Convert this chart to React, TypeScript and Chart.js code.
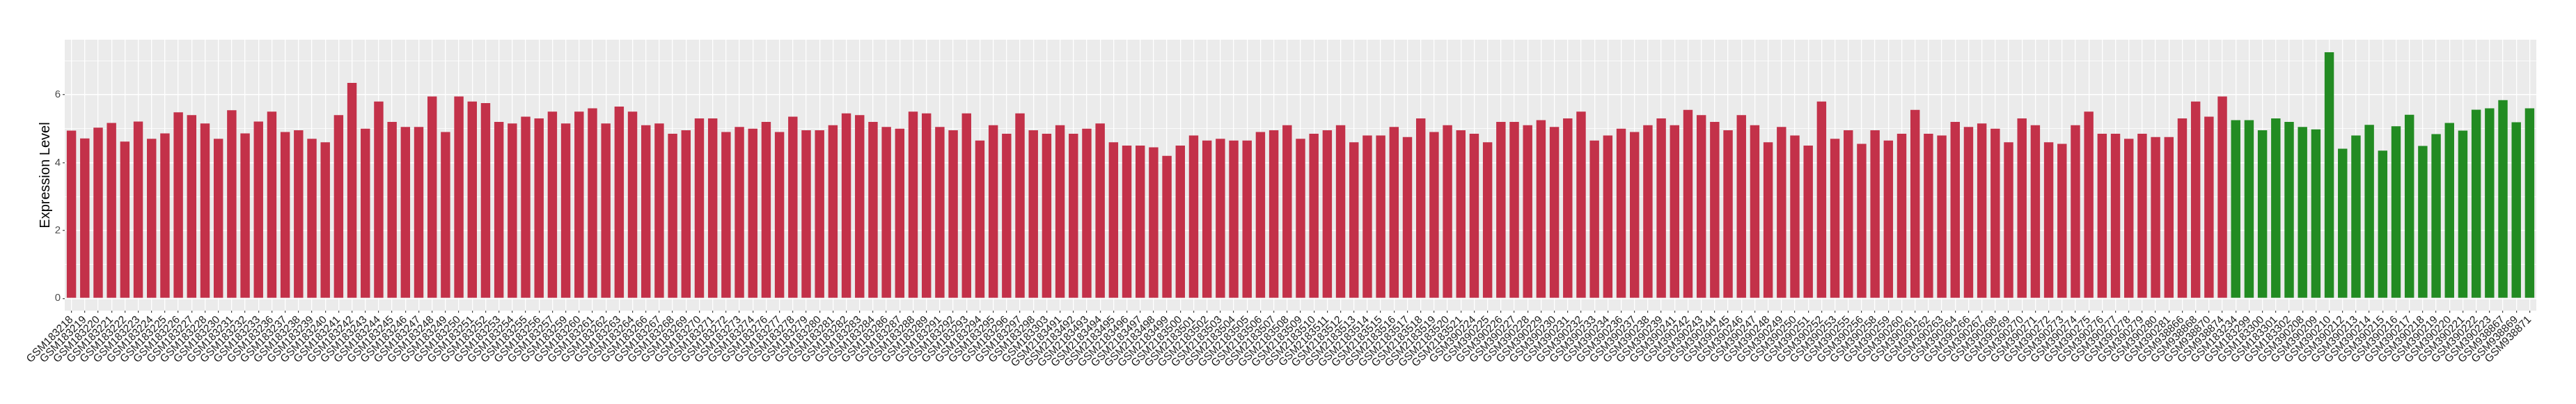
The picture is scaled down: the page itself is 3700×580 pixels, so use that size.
import React, { useEffect, useRef } from "react";
import { Chart, registerables } from "chart.js";

Chart.register(...registerables);

// ---- Data ----
const redSamples: string[] = [
  "GSM183218", "GSM183219", "GSM183220", "GSM183221", "GSM183222", "GSM183223", "GSM183224", "GSM183225", "GSM183226", "GSM183227",
  "GSM183228", "GSM183230", "GSM183231", "GSM183232", "GSM183233", "GSM183236", "GSM183237", "GSM183238", "GSM183239", "GSM183240",
  "GSM183241", "GSM183242", "GSM183243", "GSM183244", "GSM183245", "GSM183246", "GSM183247", "GSM183248", "GSM183249", "GSM183250",
  "GSM183251", "GSM183252", "GSM183253", "GSM183254", "GSM183255", "GSM183256", "GSM183257", "GSM183259", "GSM183260", "GSM183261",
  "GSM183262", "GSM183263", "GSM183264", "GSM183266", "GSM183267", "GSM183268", "GSM183269", "GSM183270", "GSM183271", "GSM183272",
  "GSM183273", "GSM183274", "GSM183276", "GSM183277", "GSM183278", "GSM183279", "GSM183280", "GSM183281", "GSM183282", "GSM183283",
  "GSM183284", "GSM183286", "GSM183287", "GSM183288", "GSM183289", "GSM183291", "GSM183292", "GSM183293", "GSM183294", "GSM183295",
  "GSM183296", "GSM183297", "GSM183298", "GSM183303",
  "GSM2183491", "GSM2183492", "GSM2183493", "GSM2183494", "GSM2183495", "GSM2183496", "GSM2183497", "GSM2183498", "GSM2183499", "GSM2183500",
  "GSM2183501", "GSM2183502", "GSM2183503", "GSM2183504", "GSM2183505", "GSM2183506", "GSM2183507", "GSM2183508", "GSM2183509", "GSM2183510",
  "GSM2183511", "GSM2183512", "GSM2183513", "GSM2183514", "GSM2183515", "GSM2183516", "GSM2183517", "GSM2183518", "GSM2183519", "GSM2183520",
  "GSM2183521",
  "GSM390224", "GSM390225", "GSM390226", "GSM390227", "GSM390228", "GSM390229", "GSM390230", "GSM390231", "GSM390232", "GSM390233",
  "GSM390234", "GSM390236", "GSM390237", "GSM390238", "GSM390239", "GSM390241", "GSM390242", "GSM390243", "GSM390244", "GSM390245",
  "GSM390246", "GSM390247", "GSM390248", "GSM390249", "GSM390250", "GSM390251", "GSM390252", "GSM390253", "GSM390255", "GSM390256",
  "GSM390258", "GSM390259", "GSM390260", "GSM390261", "GSM390262", "GSM390263", "GSM390264", "GSM390266", "GSM390267", "GSM390268",
  "GSM390269", "GSM390270", "GSM390271", "GSM390272", "GSM390273", "GSM390274", "GSM390275", "GSM390276", "GSM390277", "GSM390278",
  "GSM390279", "GSM390280", "GSM390281",
  "GSM938866", "GSM938868", "GSM938870", "GSM938874",
];

const redValues: number[] = [
  4.94, 4.71, 5.03, 5.17, 4.62, 5.21, 4.70, 4.86, 5.48, 5.40,
  5.15, 4.70, 5.54, 4.86, 5.21, 5.50, 4.90, 4.95, 4.70, 4.60,
  5.40, 6.35, 5.00, 5.80, 5.20, 5.05, 5.05, 5.95, 4.90, 5.95,
  5.80, 5.75, 5.20, 5.15, 5.35, 5.30, 5.50, 5.15, 5.50, 5.60,
  5.15, 5.65, 5.50, 5.10, 5.15, 4.85, 4.95, 5.30, 5.30, 4.90,
  5.05, 5.00, 5.20, 4.90, 5.35, 4.95, 4.95, 5.10, 5.45, 5.40,
  5.20, 5.05, 5.00, 5.50, 5.45, 5.05, 4.95, 5.45, 4.65, 5.10,
  4.85, 5.45, 4.95, 4.85, 5.10, 4.85, 5.00, 5.15, 4.60, 4.50,
  4.50, 4.45, 4.20, 4.50, 4.80, 4.65, 4.70, 4.65, 4.65, 4.90,
  4.95, 5.10, 4.70, 4.85, 4.95, 5.10, 4.60, 4.80, 4.80, 5.05,
  4.75, 5.30, 4.90, 5.10, 4.95, 4.85, 4.60, 5.20, 5.20, 5.10,
  5.25, 5.05, 5.30, 5.50, 4.65, 4.80, 5.00, 4.90, 5.10, 5.30,
  5.10, 5.55, 5.40, 5.20, 4.95, 5.40, 5.10, 4.60, 5.05, 4.80,
  4.50, 5.80, 4.70, 4.95, 4.55, 4.95, 4.65, 4.85, 5.55, 4.85,
  4.80, 5.20, 5.05, 5.15, 5.00, 4.60, 5.30, 5.10, 4.60, 4.55,
  5.10, 5.50, 4.85, 4.85, 4.70, 4.85, 4.75, 4.75, 5.30, 5.80,
  5.35, 5.95,
];

const greenSamples: string[] = [
  "GSM183234", "GSM183299", "GSM183300", "GSM183301", "GSM183302",
  "GSM390208", "GSM390209", "GSM390210", "GSM390212", "GSM390213", "GSM390214", "GSM390215", "GSM390216", "GSM390217", "GSM390218",
  "GSM390219", "GSM390220", "GSM390221", "GSM390222", "GSM390223",
  "GSM938867", "GSM938869", "GSM938871",
];

const greenValues: number[] = [
  5.25, 5.25, 4.95, 5.30, 5.20,
  5.05, 4.98, 7.25, 4.41, 4.80, 5.11, 4.35, 5.07, 5.41, 4.49,
  4.84, 5.17, 4.94, 5.56, 5.60,
  5.84, 5.19, 5.60,
];

const yGridValues: number[] = [0, 1, 2, 3, 4, 5, 6, 7];
const yLabelValues: number[] = [0, 2, 4, 6];

const RED = "#C33149";
const GREEN = "#228B22";
const PANEL = "#EBEBEB";
const FONT = "'Liberation Sans', Arial, Helvetica, sans-serif";

const panelBg = {
  id: "panelBg",
  beforeDraw(chart: any) {
    const { ctx, chartArea } = chart;
    if (!chartArea) return;
    ctx.save();
    ctx.fillStyle = PANEL;
    ctx.fillRect(chartArea.left, chartArea.top, chartArea.right - chartArea.left, chartArea.bottom - chartArea.top);
    ctx.restore();
  },
};

export default function App() {
  const ref = useRef<HTMLCanvasElement | null>(null);

  useEffect(() => {
    if (!ref.current) return;
    const labels = [...redSamples, ...greenSamples];
    const values = [...redValues, ...greenValues];
    const colors = [...redSamples.map(() => RED), ...greenSamples.map(() => GREEN)];

    const chart = new Chart(ref.current, {
      type: "bar",
      data: {
        labels,
        datasets: [
          {
            data: values,
            backgroundColor: colors,
            borderWidth: 0,
            categoryPercentage: 1,
            barPercentage: 0.7,
          },
        ],
      },
      options: {
        responsive: false,
        animation: false,
        devicePixelRatio: 1,
        layout: { padding: { left: 0, right: 57, top: 57, bottom: 0 } },
        plugins: { legend: { display: false }, tooltip: { enabled: false } },
        scales: {
          x: {
            type: "category",
            offset: true,
            border: { display: false },
            grid: {
              offset: false,
              color: "#FFFFFF",
              lineWidth: 1.3,
              drawTicks: true,
              tickLength: 3,
              tickColor: "#333333",
              tickWidth: 1.1,
            },
            ticks: {
              autoSkip: false,
              maxRotation: 45,
              minRotation: 45,
              padding: 1,
              color: "#1A1A1A",
              font: { family: FONT, size: 15.5 },
            },
            afterFit: (s: any) => {
              s.height = 134;
            },
          },
          y: {
            min: -0.363,
            max: 7.62,
            border: { display: false },
            afterBuildTicks: (s: any) => {
              s.ticks = yGridValues.map((v) => ({ value: v }));
            },
            grid: {
              color: "#FFFFFF",
              lineWidth: (c: any) => (yLabelValues.includes(c.tick?.value) ? 1.5 : 0.8),
              tickColor: (c: any) => (yLabelValues.includes(c.tick?.value) ? "#333333" : "rgba(0,0,0,0)"),
              tickLength: 3,
              tickWidth: 1.1,
            },
            ticks: {
              padding: 3,
              color: "#4D4D4D",
              font: { family: FONT, size: 15 },
              callback: (v: any) => (yLabelValues.includes(Number(v)) ? String(v) : ""),
            },
            title: {
              display: true,
              text: "Expression Level",
              color: "#000000",
              font: { family: FONT, size: 20 },
              padding: { top: 53, bottom: 0 },
            },
            afterFit: (s: any) => {
              s.width = 93;
            },
          },
        },
      },
      plugins: [panelBg],
    });
    return () => chart.destroy();
  }, []);

  return (
    <div style={{ position: "absolute", left: 0, top: 0, width: 3700, height: 580, background: "#FFFFFF" }}>
      <canvas ref={ref} width={3700} height={580} style={{ display: "block", width: 3700, height: 580 }} />
    </div>
  );
}
